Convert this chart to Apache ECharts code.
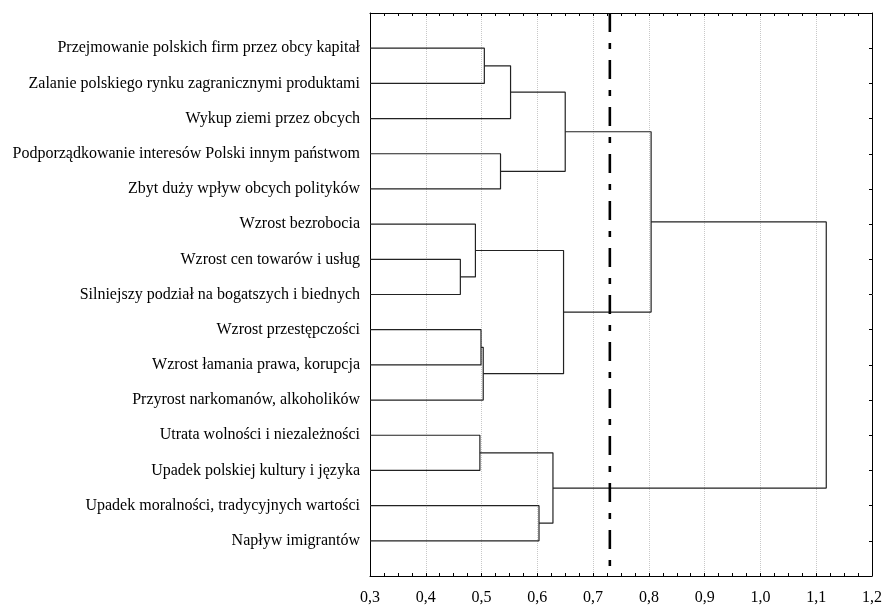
<!DOCTYPE html>
<html>
<head>
<meta charset="utf-8">
<script src="https://cdn.jsdelivr.net/npm/echarts@6/dist/echarts.min.js"></script>
<style>
  html, body { margin: 0; padding: 0; background: #fff; }
  #chart { width: 886px; height: 607px; }
</style>
</head>
<body>
<div id="chart"></div>
<script>
// leaves, top to bottom
var leafLabels = [
  'Przejmowanie polskich firm przez obcy kapitał',
  'Zalanie polskiego rynku zagranicznymi produktami',
  'Wykup ziemi przez obcych',
  'Podporządkowanie interesów Polski innym państwom',
  'Zbyt duży wpływ obcych polityków',
  'Wzrost bezrobocia',
  'Wzrost cen towarów i usług',
  'Silniejszy podział na bogatszych i biednych',
  'Wzrost przestępczości',
  'Wzrost łamania prawa, korupcja',
  'Przyrost narkomanów, alkoholików',
  'Utrata wolności i niezależności',
  'Upadek polskiej kultury i języka',
  'Upadek moralności, tradycyjnych wartości',
  'Napływ imigrantów'
];

// merges: children (L# = leaf number, M# = merge number) and linkage distance
var mergeLeft  = ['L1', 'M1', 'L4', 'M2', 'L7', 'L6', 'L9',  'M7',  'M6', 'M4', 'L12', 'L14', 'M11', 'M10'];
var mergeRight = ['L2', 'L3', 'L5', 'M3', 'L8', 'M5', 'L10', 'L11', 'M8', 'M9', 'L13', 'L15', 'M12', 'M13'];
var mergeDist  = [0.505, 0.552, 0.534, 0.650, 0.462, 0.489, 0.499, 0.503, 0.647, 0.804, 0.497, 0.603, 0.628, 1.118];

var cutLevel = 0.73;
var axisMin = 0.3;
var axisMax = 1.2;

var nodes = {};
leafLabels.forEach(function (name, i) {
  nodes['L' + (i + 1)] = { h: axisMin, pos: i + 1 };
});

var series = [];
mergeDist.forEach(function (h, i) {
  var a = nodes[mergeLeft[i]];
  var b = nodes[mergeRight[i]];
  nodes['M' + (i + 1)] = { h: h, pos: (a.pos + b.pos) / 2 };
  series.push({
    type: 'line',
    symbol: 'none',
    silent: true,
    lineStyle: { color: '#222', width: 1.2 },
    data: [[a.h, a.pos], [h, a.pos], [h, b.pos], [b.h, b.pos]]
  });
});

series.push({
  type: 'line',
  symbol: 'none',
  silent: true,
  lineStyle: { color: '#000', width: 2.6, type: [19, 11, 6, 11] },
  data: [[cutLevel, 0], [cutLevel, leafLabels.length + 1]]
});

var chart = echarts.init(document.getElementById('chart'));
var font = 'Liberation Serif';

chart.setOption({
  animation: false,
  grid: { left: 370, right: 14, top: 13, bottom: 31 },
  xAxis: [{
    type: 'value',
    min: axisMin,
    max: axisMax,
    interval: 0.1,
    axisLine: { onZero: false, lineStyle: { color: '#000', width: 1 } },
    axisTick: { inside: true, length: 3, lineStyle: { color: '#000' } },
    minorTick: { show: true, splitNumber: 4, length: 3, lineStyle: { color: '#000' } },
    axisLabel: {
      color: '#000', fontFamily: font, fontSize: 16, margin: 14,
      formatter: function (v) { return v.toFixed(1).replace('.', ','); }
    },
    splitLine: { show: true, lineStyle: { color: '#c8c8c8', type: 'dotted' } }
  }, {
    type: 'value',
    position: 'top',
    min: axisMin,
    max: axisMax,
    interval: 0.1,
    axisLine: { onZero: false, lineStyle: { color: '#000', width: 1 } },
    axisTick: { inside: true, length: 3, lineStyle: { color: '#000' } },
    minorTick: { show: true, splitNumber: 4, length: 3, lineStyle: { color: '#000' } },
    axisLabel: { show: false },
    splitLine: { show: false }
  }],
  yAxis: [{
    type: 'value',
    inverse: true,
    min: 0,
    max: leafLabels.length + 1,
    interval: 1,
    axisLine: { show: true, onZero: false, lineStyle: { color: '#000', width: 1 } },
    axisTick: { show: false },
    axisLabel: {
      color: '#000', fontFamily: font, fontSize: 16, margin: 10,
      formatter: function (v) { return leafLabels[v - 1] || ''; }
    },
    splitLine: { show: false }
  }, {
    type: 'value',
    position: 'right',
    inverse: true,
    min: 0,
    max: leafLabels.length + 1,
    interval: 1,
    axisLine: { show: true, onZero: false, lineStyle: { color: '#000', width: 1 } },
    axisTick: { inside: true, length: 3, lineStyle: { color: '#000' } },
    axisLabel: { show: false },
    splitLine: { show: false }
  }],
  series: series
});
</script>
</body>
</html>
